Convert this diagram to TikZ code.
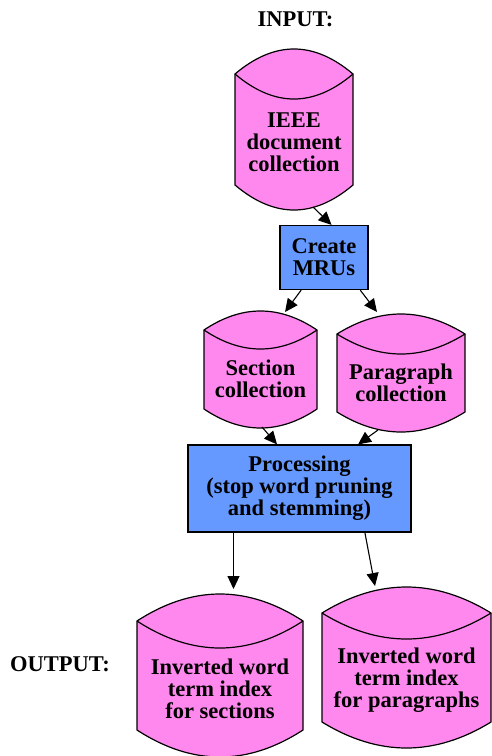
\documentclass[tikz,border=0pt]{standalone}
\usepackage{fontspec}
\setmainfont{Liberation Serif}
\usetikzlibrary{arrows.meta}

\definecolor{barrelpink}{RGB}{255,136,238}
\definecolor{boxblue}{RGB}{102,153,255}

\tikzset{
  barrelshape/.style={draw=black, line width=1.2pt, fill=barrelpink},
  labeltext/.style={font=\bfseries\fontsize{22.5}{22}\selectfont, align=center, inner sep=0pt},
  procbox/.style={draw=black, line width=1.2pt, fill=boxblue, labeltext},
  arr/.style={line width=1.1pt, -{Stealth[length=13pt,width=12pt,inset=0pt]}}
}

% #1 name, #2 left, #3 right, #4 top corner, #5 bottom corner, #6 bulge, #7 text
\newcommand{\barrel}[7]{%
  \pgfmathsetmacro\bxa{#2+(#3-#2)/3}
  \pgfmathsetmacro\bxb{#3-(#3-#2)/3}
  \pgfmathsetmacro\bup{#4-4*#6/3}
  \pgfmathsetmacro\bin{#4+4*#6/3}
  \pgfmathsetmacro\bdn{#5+4*#6/3}
  \pgfmathsetmacro\bcx{(#2+#3)/2}
  \pgfmathsetmacro\bcy{(#4+#5)/2+#6/2}
  \filldraw[barrelshape] (#2,#4) .. controls (\bxa,\bup) and (\bxb,\bup) .. (#3,#4)
    -- (#3,#5) .. controls (\bxb,\bdn) and (\bxa,\bdn) .. (#2,#5) -- cycle;
  \draw[barrelshape, fill=none] (#2,#4) .. controls (\bxa,\bin) and (\bxb,\bin) .. (#3,#4);
  \node[labeltext] (#1) at (\bcx,\bcy) {#7};
}

\begin{document}
\begin{tikzpicture}[x=1pt, y=-1pt]
    \useasboundingbox (0,0) rectangle (492,756);

    % labels
    \node[labeltext] (input) at (295.5,19.5) {INPUT:};
    \node[labeltext] (output) at (60,664.5) {OUTPUT:};

    % data stores
    \barrel{ieee}{235}{353}{74}{185}{25}{IEEE\\document\\collection}
    \barrel{sec}{204}{317}{330}{409}{19}{Section\\collection}
    \barrel{par}{337}{465}{334}{412}{20}{Paragraph\\collection}
    \barrel{isec}{137}{303}{621}{730}{27}{Inverted word\\term index\\for sections}
    \barrel{ipar}{322}{491}{613}{722}{26}{Inverted word\\term index\\for paragraphs}

    % steps
    \node[procbox, minimum width=88pt, minimum height=64pt] (create) at (324,257.5) {Create\\MRUs};
    \node[procbox, minimum width=223pt, minimum height=87pt] (proc) at (299.5,488.5)
        {Processing\\(stop word pruning\\and stemming)};

    % arrow ends on the data stores
    \coordinate (ieee out) at (313,207);
    \coordinate (sec in) at (285,312);
    \coordinate (par in) at (377,312);
    \coordinate (sec out) at (262,427);
    \coordinate (par out) at (378,430);
    \coordinate (isec in) at (233.5,589);
    \coordinate (ipar in) at (375,586);

    \draw[arr] (ieee out) -- (create.77);
    \draw[arr] (create.235) -- (sec in);
    \draw[arr] (create.-42) -- (par in);
    \draw[arr] (sec out) -- (proc.117);
    \draw[arr] (par out) -- (proc.37);
    \draw[arr] (proc.south -| isec in) -- (isec in);
    \draw[arr] (proc.-34) -- (ipar in);
\end{tikzpicture}
\end{document}
